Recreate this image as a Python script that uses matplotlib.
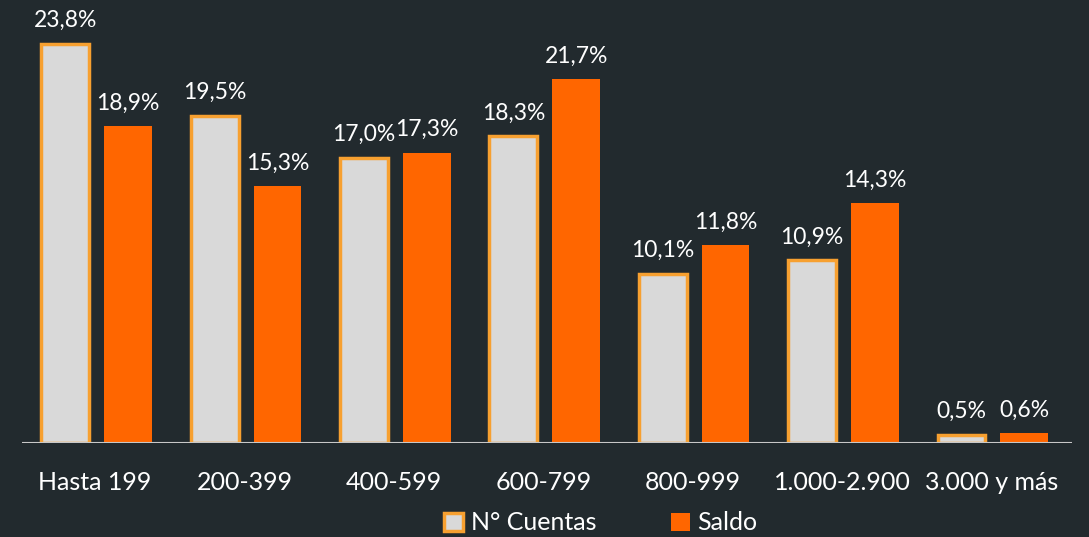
import numpy as np
import matplotlib
matplotlib.use("Agg")
import matplotlib.pyplot as plt
from matplotlib.patches import Patch

plt.rcParams['font.family'] = ['Lato', 'DejaVu Sans']

# data
categorias = ['Hasta 199', '200-399', '400-599', '600-799', '800-999', '1.000-2.900', '3.000 y más']
cuentas = [23.8, 19.5, 17.0, 18.3, 10.1, 10.9, 0.5]
saldo = [18.9, 15.3, 17.3, 21.7, 11.8, 14.3, 0.6]

BG = '#222a2e'
GRIS = '#d9d9d9'
BORDE = '#f7a030'
NARANJA = '#ff6600'

fig = plt.figure(figsize=(10.89, 5.37), dpi=100, facecolor=BG)
ax = fig.add_axes([22 / 1089, 94 / 537, 1050 / 1089, 443 / 537])
ax.set_facecolor(BG)

x = np.arange(len(categorias))
w = 0.32
gap = 0.1
xc = x - (w + gap) / 2 + 0.01
xs = x + (w + gap) / 2 + 0.01

ax.bar(xc, cuentas, w, color=GRIS, edgecolor=BORDE, linewidth=2.5, zorder=2)
ax.bar(xs, saldo, w, color=NARANJA, edgecolor='none', zorder=2)

def fmt(v):
    return f'{v:.1f}%'.replace('.', ',')

for xi, v in zip(xc, cuentas):
    ax.annotate(fmt(v), (xi, v), xytext=(0, 9), textcoords='offset points',
                ha='center', va='bottom', color='white', fontsize=16.5)
for xi, v in zip(xs, saldo):
    ax.annotate(fmt(v), (xi, v), xytext=(0, 9), textcoords='offset points',
                ha='center', va='bottom', color='white', fontsize=16.5)

ax.set_xlim(-0.49, 6.54)
ax.set_ylim(0, 26.4)
ax.axhline(0, color='#c8c8c8', linewidth=1.5, zorder=3)
for s in ax.spines.values():
    s.set_visible(False)
ax.set_yticks([])
ax.set_xticks(x)
ax.set_xticklabels(categorias, color='white', fontsize=18)
ax.tick_params(axis='x', length=0, pad=20)

handles = [Patch(facecolor=GRIS, edgecolor=BORDE, linewidth=2.5, label='N° Cuentas'),
           Patch(facecolor=NARANJA, edgecolor='none', label='Saldo')]
leg = fig.legend(handles=handles, loc='center', bbox_to_anchor=(601 / 1089, 1 - 523 / 537),
                 ncol=2, frameon=False, fontsize=18, handlelength=0.75, handleheight=0.75,
                 handletextpad=0.3, columnspacing=3.0, labelcolor='white')

fig.savefig('out.png', facecolor=BG)
